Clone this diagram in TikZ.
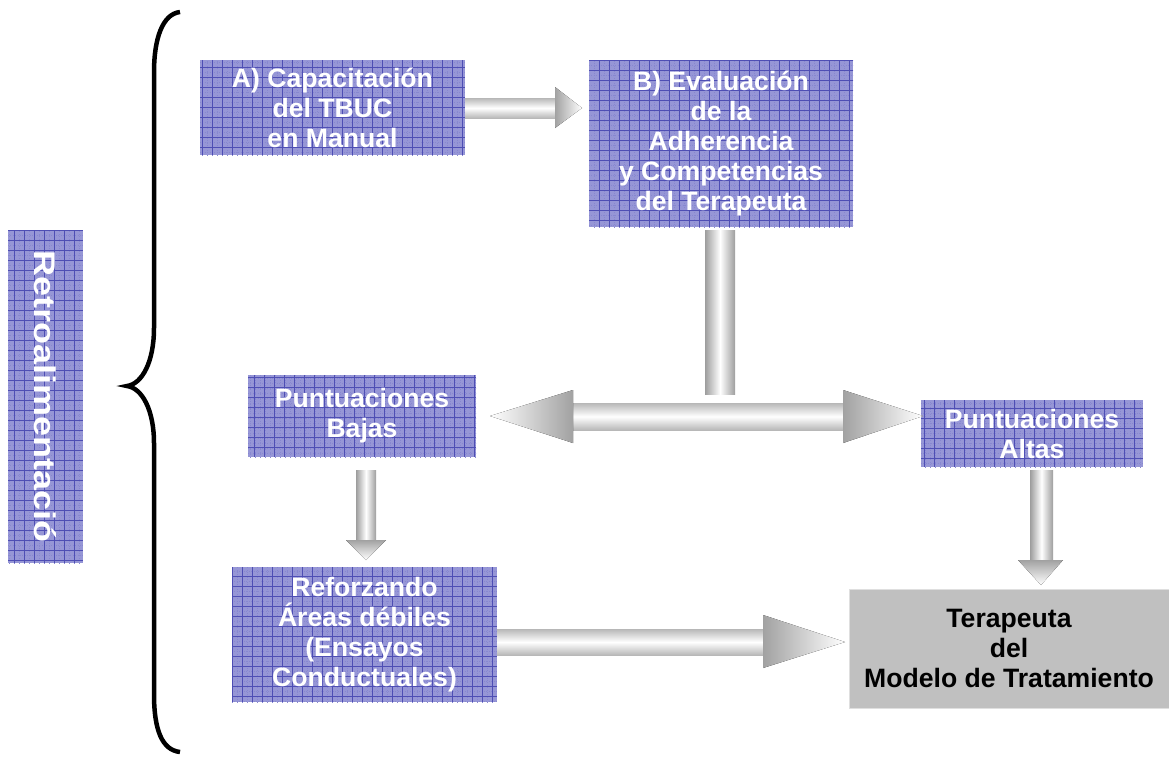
\documentclass[tikz,border=0pt]{standalone}
\usepackage{fontspec}
\usepackage{graphicx}
\setmainfont{Liberation Sans}
\usetikzlibrary{calc}
\definecolor{boxbase}{RGB}{150,150,214}
\definecolor{gridc}{RGB}{78,78,180}
\definecolor{gridf}{RGB}{135,135,208}
\definecolor{termgray}{RGB}{192,192,192}
\definecolor{shadeg}{RGB}{125,125,125}
\begin{document}
\begin{tikzpicture}[x=1pt,y=-1pt,
  gbox/.style={rectangle, inner sep=0pt, fill=boxbase, text=white, align=center,
    font=\fontsize{26.6}{30}\selectfont\bfseries,
    path picture={
      \draw[gridf, line width=0.4pt, dotted] (path picture bounding box.south west) grid[step=5pt] (path picture bounding box.north east);
      \draw[gridc, line width=0.8pt] (path picture bounding box.south west) grid[step=10pt] (path picture bounding box.north east);}},
  hshaft/.style={top color=shadeg!55, bottom color=shadeg!55, middle color=white},
  vshaft/.style={left color=shadeg!75, right color=shadeg!75, middle color=white},
  headR/.style={left color=shadeg!72, right color=white},
  headL/.style={left color=white, right color=shadeg!72},
  headD/.style={top color=shadeg!72, bottom color=white},
]
\useasboundingbox (0,0) rectangle (1169,756);

% boxes
\node[gbox, minimum width=265, minimum height=95] (A) at (332.5,107.5)
  {A) Capacitación\\del TBUC\\en Manual};
\node[gbox, minimum width=264, minimum height=167] (B) at (721,143.5)
  {B) Evaluación\\de la\\Adherencia\\y Competencias\\del Terapeuta};
\node[gbox, minimum width=75, minimum height=333] (retro) at (45.5,396.5)
  {\rotatebox{-90}{\fontsize{30}{30}\selectfont\bfseries\scalebox{1.2}[1]{Retroalimentació}}};
\node[gbox, minimum width=228, minimum height=82] (bajas) at (362,416)
  {Puntuaciones\\Bajas};
\node[gbox, minimum width=222, minimum height=67] (altas) at (1032,433.5)
  {Puntuaciones\\Altas};
\node[gbox, minimum width=265, minimum height=135] (ref) at (364.5,634.5)
  {Reforzando\\Áreas débiles\\(Ensayos\\Conductuales)};
\node[rectangle, inner sep=0pt, fill=termgray, draw=gray!25, minimum width=320, minimum height=119,
  align=center, font=\fontsize{26.6}{30}\selectfont\bfseries] (ter) at (1009,648.5)
  {Terapeuta\\del\\Modelo de Tratamiento};

% brace
\draw[line width=4.5pt] (180,12) .. controls (162,14) and (154,40) .. (154,72)
  -- (154,328) .. controls (154,362) and (142,384) .. (127,386)
  .. controls (142,388) and (154,410) .. (154,443)
  -- (154,694) .. controls (154,730) and (162,750) .. (180,752);

% A -> B
\fill[hshaft] (A.east |- 0,98) rectangle (555,118);
\fill[headR] (555,87) -- (582,108) -- (555,128) -- cycle;

% B vertical bar
\fill[vshaft] (705,230) rectangle (735,394);

% double arrow
\fill[hshaft] (572,403) rectangle (844,430);
\fill[headL] (490,416) -- (573,390) -- (573,443) -- cycle;
\fill[headR] (843,390) -- (923,416) -- (843,443) -- cycle;

% Bajas -> Reforzando
\fill[vshaft] (356,470) rectangle (376,541);
\fill[headD] (346,540) -- (386,540) -- (366,560) -- cycle;

% Altas -> Terapeuta
\fill[vshaft] (1030,470) rectangle (1053,561);
\fill[headD] (1018,560) -- (1063,560) -- (1041,585) -- cycle;

% Reforzando -> Terapeuta
\fill[hshaft] (ref.east |- 0,629) rectangle (764,655);
\fill[headR] (763,615) -- (845,642) -- (763,668) -- cycle;
\end{tikzpicture}
\end{document}
